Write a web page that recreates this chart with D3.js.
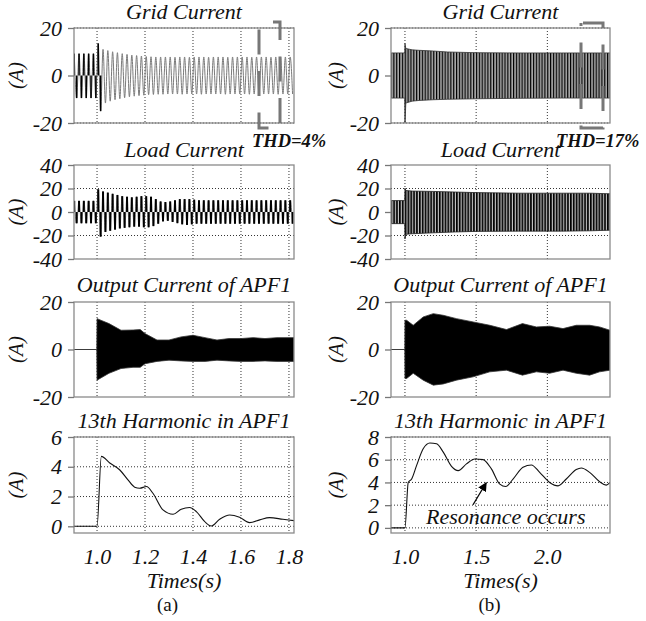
<!DOCTYPE html>
<html>
<head>
<meta charset="utf-8">
<script src="https://cdn.jsdelivr.net/npm/d3@7"></script>
<style>
  body { margin: 0; background: #fff; }
  svg text { font-family: "Liberation Serif", "Times New Roman", serif; fill: #111; }
</style>
</head>
<body>
<svg id="fig" width="646" height="621"></svg>
<script>
// time axis ticks for the two columns
const ticksA = [1.0, 1.2, 1.4, 1.6, 1.8];
const ticksB = [1.0, 1.5, 2.0];

// (a) waveforms read cycle by cycle (50 Hz, one value per half cycle peak)
const cycleT0 = 0.90;
const cyclePeriod = 0.02;
const gridA_up = [9.2, 9.2, 9.2, 9.2, 9.2, 13.5, 11, 10.5, 10, 9.6, 9.2, 8.9, 8.6, 8.4, 8.2, 8, 7.9, 7.8, 7.8, 7.8,
  7.8, 7.7, 7.8, 7.8, 7.7, 7.8, 7.8, 7.8, 7.7, 7.8, 7.8, 7.8, 7.7, 7.8, 7.8, 7.8, 7.8, 7.7, 7.8, 7.8, 7.8, 7.7, 7.8, 7.8, 7.8, 7.8];
const gridA_lo = [-9.5, -9.5, -9.5, -9.5, -9.5, -15, -11.6, -10.8, -10.2, -9.8, -9.4, -9, -8.7, -8.5, -8.3, -8.1, -8, -7.9, -7.9, -7.8,
  -7.8, -7.8, -7.9, -7.8, -7.8, -7.8, -7.9, -7.8, -7.8, -7.8, -7.8, -7.9, -7.8, -7.8, -7.8, -7.8, -7.9, -7.8, -7.8, -7.8, -7.8, -7.8, -7.9, -7.8, -7.8, -7.8];
const loadA_up = [9.5, 9.5, 9.5, 9.5, 9.5, 19.3, 17.5, 16.5, 15.5, 14.5, 13.5, 13, 12.5, 13, 13.5, 13.5, 13, 11, 9, 8.5,
  9, 10, 11, 11, 11, 10.5, 10, 10, 10, 10, 10, 10, 10, 10, 10, 10, 10, 10, 10, 10, 10, 10, 10, 10, 10, 10];
const loadA_lo = [-9.6, -9.6, -9.6, -9.6, -9.6, -21, -17, -16, -15, -14, -13.5, -13, -12.5, -12.5, -13, -13, -12, -10, -8, -7.5,
  -8.5, -9.5, -10.5, -11, -10.5, -10, -10, -10, -10, -10, -10, -10, -10, -10, -10, -10, -10, -10, -10, -10, -10, -10, -10, -10, -10, -10];

// dense waveforms: envelope (time, upper, lower)
const outA_t  = [0.904, 0.999, 1.0, 1.05, 1.1, 1.15, 1.18, 1.2, 1.25, 1.3, 1.35, 1.4, 1.45, 1.5, 1.55, 1.6, 1.65, 1.7, 1.75, 1.821];
const outA_up = [0, 0, 13, 10.9, 8.1, 8.2, 8.4, 6.7, 4, 4, 5.3, 6, 5, 4, 4.6, 4.6, 5, 4.6, 5, 5];
const outA_lo = [0, 0, -12.9, -10, -8, -7.5, -7.5, -6, -5, -4.5, -4.8, -5, -5, -4.5, -4.8, -5, -5, -4.8, -5, -5];

const gridB_t  = [0.902, 0.998, 1.0, 1.006, 1.05, 1.1, 1.2, 1.3, 1.5, 1.8, 2.1, 2.44];
const gridB_up = [9.5, 9.5, 13.5, 11.4, 10.8, 10.6, 10.3, 9.9, 9.6, 9.5, 9.5, 9.5];
const gridB_lo = [-9.5, -9.5, -21, -11.6, -10.8, -10.5, -10.2, -10, -9.8, -9.6, -9.5, -9.5];

const loadB_t  = [0.902, 0.998, 1.0, 1.006, 1.05, 1.2, 1.35, 1.5, 1.8, 2.1, 2.3, 2.44];
const loadB_up = [9.7, 9.7, 20.3, 18.3, 17.8, 17.5, 17, 16.5, 16, 16, 16, 15.5];
const loadB_lo = [-9.9, -9.9, -23, -19, -18.5, -17.7, -17, -16.5, -16.3, -16.3, -16, -15.5];

const outB_t  = [0.902, 0.999, 1.0, 1.012, 1.058, 1.128, 1.199, 1.269, 1.362, 1.479, 1.596, 1.713, 1.825, 1.923, 2.016, 2.11, 2.203, 2.297, 2.367, 2.44];
const outB_up = [0, 0, 12.3, 12.3, 10.2, 13.7, 15.1, 14.4, 13, 11.6, 10.2, 8.4, 10.9, 9.5, 9.8, 8.8, 10.2, 10.2, 9.5, 8.1];
const outB_lo = [0, 0, -12.2, -12.2, -10, -12.9, -15, -14.5, -12.9, -11.5, -9.4, -8.7, -10.8, -9.4, -10, -8.7, -10, -10.8, -9.4, -8.7];

// 13th harmonic magnitude
const harmA_t = [0.904, 1.0, 1.018, 1.053, 1.094, 1.129, 1.157, 1.178, 1.206, 1.233, 1.275, 1.317, 1.351, 1.386, 1.414, 1.449, 1.476, 1.511, 1.553, 1.594, 1.636, 1.678, 1.719, 1.775, 1.821];
const harmA_v = [0, 0, 4.7, 4.25, 3.8, 3.12, 2.63, 2.56, 2.67, 2.22, 1.1, 0.81, 1.15, 1.26, 0.99, 0.31, 0.02, 0.47, 0.76, 0.61, 0.25, 0.43, 0.58, 0.47, 0.38];
const harmB_t = [0.902, 1.0, 1.023, 1.047, 1.082, 1.128, 1.175, 1.222, 1.269, 1.327, 1.374, 1.432, 1.491, 1.549, 1.607, 1.666, 1.708, 1.759, 1.829, 1.888, 1.946, 2.016, 2.075, 2.133, 2.203, 2.238, 2.297, 2.367, 2.414, 2.44];
const harmB_v = [0, 0, 4.0, 4.3, 5.5, 6.96, 7.47, 7.4, 6.67, 5.42, 5.04, 5.63, 6.07, 6.01, 5.19, 3.85, 3.64, 4.3, 5.33, 5.54, 4.89, 4.0, 3.7, 4.3, 5.13, 5.27, 4.89, 4.06, 3.76, 4.0];

const titles = ['Grid Current', 'Load Current', 'Output Current of APF1', '13th Harmonic in APF1'];

const FONT = '"Liberation Serif", "Times New Roman", serif';
const svg = d3.select('#fig');
const defs = svg.append('defs');

function stripes(id, bg, w) {
  const p = defs.append('pattern').attr('id', id)
    .attr('patternUnits', 'userSpaceOnUse').attr('width', 2.85).attr('height', 10);
  p.append('rect').attr('width', 2.85).attr('height', 10).attr('fill', bg);
  p.append('rect').attr('width', w).attr('height', 10).attr('fill', '#000');
}
stripes('stripeGrid', '#a8a8a8', 1.2);
stripes('stripeLoad', '#c4c4c4', 1.7);

const cols = {
  a: { x0: 74, x1: 294, domain: [0.904, 1.821], ticks: ticksA, cx: 184, ylab: 16 },
  b: { x0: 391, x1: 610, domain: [0.902, 2.44], ticks: ticksB, cx: 500.5, ylab: 335.5 }
};
const rows = [
  { top: 28, bot: 123, titleY: 18.5 },
  { top: 165, bot: 259, titleY: 156.5 },
  { top: 302, bot: 397, titleY: 292 },
  { top: 437, bot: 533, titleY: 428 }
];

let clipN = 0;
function panel(col, row, title, yDomain, yTicks, hGrid) {
  const x = d3.scaleLinear().domain(col.domain).range([col.x0, col.x1]);
  const y = d3.scaleLinear().domain(yDomain).range([row.bot, row.top]);
  const id = 'clip' + (clipN++);
  defs.append('clipPath').attr('id', id).append('rect')
    .attr('x', col.x0).attr('y', row.top)
    .attr('width', col.x1 - col.x0).attr('height', row.bot - row.top);

  const grid = svg.append('g').attr('stroke', '#333').attr('stroke-width', 1).attr('stroke-dasharray', '1,2');
  grid.selectAll('line.v').data(col.ticks).join('line').attr('class', 'v')
    .attr('x1', d => x(d)).attr('x2', d => x(d)).attr('y1', row.top).attr('y2', row.bot);
  grid.selectAll('line.h').data(hGrid).join('line').attr('class', 'h')
    .attr('x1', col.x0).attr('x2', col.x1).attr('y1', d => y(d)).attr('y2', d => y(d));

  const plot = svg.append('g').attr('clip-path', `url(#${id})`);

  svg.append('rect').attr('x', col.x0).attr('y', row.top)
    .attr('width', col.x1 - col.x0).attr('height', row.bot - row.top)
    .attr('fill', 'none').attr('stroke', '#8a8a8a').attr('stroke-width', 1.3);

  svg.append('g').attr('transform', `translate(${col.x0},0)`)
    .call(d3.axisLeft(y).tickValues(yTicks).tickSize(6).tickPadding(6).tickFormat(d => String(d)))
    .attr('font-family', FONT).attr('font-size', 22).attr('font-style', 'italic')
    .call(g => g.select('.domain').remove())
    .call(g => g.selectAll('line').attr('stroke', '#777').attr('stroke-width', 1.3))
    .call(g => g.selectAll('text').attr('fill', '#111'));

  svg.append('text').attr('x', col.cx).attr('y', row.titleY)
    .attr('text-anchor', 'middle').attr('font-size', 22).attr('font-style', 'italic').text(title);

  svg.append('text')
    .attr('transform', `translate(${col.ylab},${(row.top + row.bot) / 2}) rotate(-90)`)
    .attr('text-anchor', 'middle').attr('dy', '0.35em')
    .attr('font-size', 21).attr('font-style', 'italic').text('(A)');

  return { x, y, plot };
}

function cyclePoints(up, lo) {
  const pts = [];
  up.forEach((u, i) => {
    const t = cycleT0 + i * cyclePeriod;
    pts.push({ t: t + cyclePeriod / 4, v: u, k: i }, { t: t + 3 * cyclePeriod / 4, v: lo[i], k: i });
  });
  return pts;
}

function envelope(p, ts, up, lo, fill, stroke) {
  const data = ts.map((t, i) => ({ t, u: up[i], l: lo[i] }));
  p.plot.append('path').datum(data)
    .attr('fill', fill).attr('stroke', stroke).attr('stroke-width', 0.8)
    .attr('d', d3.area().x(d => p.x(d.t)).y0(d => p.y(d.l)).y1(d => p.y(d.u)));
}

function bars(p, pts, w) {
  p.plot.selectAll(null).data(pts).join('rect')
    .attr('x', d => p.x(d.t) - w / 2).attr('width', w)
    .attr('y', d => Math.min(p.y(d.v), p.y(0)))
    .attr('height', d => Math.abs(p.y(d.v) - p.y(0)))
    .attr('fill', '#000');
}

function wave(p, pts, color) {
  p.plot.append('path').datum(pts)
    .attr('fill', 'none').attr('stroke', color).attr('stroke-width', 1)
    .attr('d', d3.line().x(d => p.x(d.t)).y(d => p.y(d.v)).curve(d3.curveMonotoneX));
}

function harmonic(p, ts, vs) {
  p.plot.append('path').datum(ts.map((t, i) => ({ t, v: vs[i] })))
    .attr('fill', 'none').attr('stroke', '#111').attr('stroke-width', 1.1)
    .attr('d', d3.line().x(d => p.x(d.t)).y(d => p.y(d.v)).curve(d3.curveMonotoneX));
}

// ---- column (a) ----
const gA = panel(cols.a, rows[0], titles[0], [-20, 20], [-20, 0, 20], [-20, 20]);
const gAp = cyclePoints(gridA_up, gridA_lo);
wave(gA, gAp, '#7a7a7a');
bars(gA, gAp.filter(d => d.k <= 5), 1.5);

const lA = panel(cols.a, rows[1], titles[1], [-40, 40], [-40, -20, 0, 20, 40], [-20, 20]);
const lAp = cyclePoints(loadA_up, loadA_lo);
wave(lA, lAp, '#8a8a8a');
bars(lA, lAp, 2);

const oA = panel(cols.a, rows[2], titles[2], [-20, 20], [-20, 0, 20], []);
envelope(oA, outA_t, outA_up, outA_lo, '#000', '#333');

const hA = panel(cols.a, rows[3], titles[3], [-0.45, 6], [0, 2, 4, 6], [0, 2, 4, 6]);
harmonic(hA, harmA_t, harmA_v);

// ---- column (b) ----
const gB = panel(cols.b, rows[0], titles[0], [-20, 20], [-20, 0, 20], [-20, 20]);
envelope(gB, gridB_t, gridB_up, gridB_lo, 'url(#stripeGrid)', '#333');

const lB = panel(cols.b, rows[1], titles[1], [-40, 40], [-40, -20, 0, 20, 40], [-20, 20]);
envelope(lB, loadB_t, loadB_up, loadB_lo, 'url(#stripeLoad)', '#222');

const oB = panel(cols.b, rows[2], titles[2], [-20, 20], [-20, 0, 20], []);
envelope(oB, outB_t, outB_up, outB_lo, '#000', '#333');

const hB = panel(cols.b, rows[3], titles[3], [-0.45, 8], [0, 2, 4, 6, 8], [0, 2, 4, 6, 8]);
harmonic(hB, harmB_t, harmB_v);

// x axes on the bottom row
[[hA, cols.a, '(a)', 167.5], [hB, cols.b, '(b)', 489.5]].forEach(([p, col, tag, tx]) => {
  svg.append('g').attr('transform', `translate(0,${rows[3].bot})`)
    .call(d3.axisBottom(p.x).tickValues(col.ticks).tickSize(0).tickPadding(15).tickFormat(d3.format('.1f')))
    .attr('font-family', FONT).attr('font-size', 22).attr('font-style', 'italic')
    .call(g => g.select('.domain').remove())
    .call(g => g.selectAll('text').attr('fill', '#111'));
  svg.append('text').attr('x', col.cx).attr('y', 588).attr('text-anchor', 'middle')
    .attr('font-size', 22).attr('font-style', 'italic').text('Times(s)');
  svg.append('text').attr('x', tx).attr('y', 611).attr('text-anchor', 'middle')
    .attr('font-size', 19).text(tag);
});

// annotation: resonance
defs.append('marker').attr('id', 'head').attr('viewBox', '0 0 10 10')
  .attr('refX', 9).attr('refY', 5).attr('markerWidth', 9).attr('markerHeight', 9)
  .attr('markerUnits', 'userSpaceOnUse').attr('orient', 'auto')
  .append('path').attr('d', 'M0,0L10,5L0,10z').attr('fill', '#000');
svg.append('line')
  .attr('x1', hB.x(1.478)).attr('y1', hB.y(2.04))
  .attr('x2', hB.x(1.571)).attr('y2', hB.y(3.97))
  .attr('stroke', '#000').attr('stroke-width', 1.3).attr('marker-end', 'url(#head)');
svg.append('text').attr('x', hB.x(1.148)).attr('y', hB.y(0.35))
  .attr('font-size', 22).attr('font-style', 'italic').text('Resonance occurs');

// THD brackets and labels
[[259, 280, 22, 128, 27.5], [581, 603, 23, 128, 39.5]].forEach(([bx0, bx1, by0, by1, off]) => {
  svg.append('rect').attr('x', bx0).attr('y', by0).attr('width', bx1 - bx0).attr('height', by1 - by0)
    .attr('fill', 'none').attr('stroke', '#777').attr('stroke-width', 3)
    .attr('stroke-dasharray', '25,16.5').attr('stroke-dashoffset', off);
});
svg.append('text').attr('x', 252).attr('y', 147).attr('font-size', 18.5)
  .attr('font-weight', 'bold').attr('font-style', 'italic').text('THD=4%');
svg.append('text').attr('x', 556).attr('y', 147).attr('font-size', 18.5)
  .attr('font-weight', 'bold').attr('font-style', 'italic').text('THD=17%');
</script>
</body>
</html>
